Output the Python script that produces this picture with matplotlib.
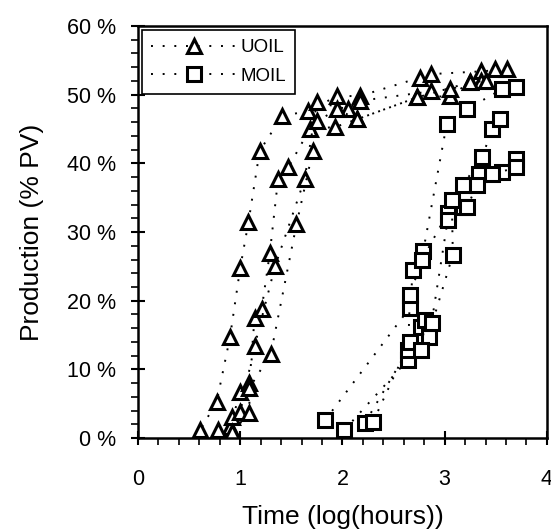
import numpy as np
import matplotlib
matplotlib.use('Agg')
import matplotlib.pyplot as plt
from matplotlib.ticker import MultipleLocator, FuncFormatter

plt.rcParams['font.family'] = ['Liberation Sans', 'DejaVu Sans']

# UOIL runs (log(hours), % PV)
u1_x = [0.60, 0.61, 0.77, 0.90, 1.00, 1.08, 1.19, 1.41, 1.66, 1.95, 2.17, 2.76, 2.87, 3.36, 3.61]
u1_y = [0.0, 1.2, 5.3, 14.7, 24.8, 31.4, 41.8, 46.9, 47.6, 49.8, 49.8, 52.5, 53.0, 53.4, 53.7]
u2_x = [0.78, 0.90, 1.00, 1.09, 1.14, 1.21, 1.29, 1.37, 1.47, 1.68, 1.93, 2.14, 2.73, 3.05, 3.25, 3.49]
u2_y = [0.3, 1.6, 6.7, 8.0, 17.5, 18.8, 27.0, 37.7, 39.4, 45.0, 45.3, 46.4, 49.6, 49.8, 51.8, 53.7]
u3_x = [0.78, 0.92, 1.00, 1.14, 1.34, 1.63, 1.75, 2.05, 2.17, 2.87, 3.05, 3.36]
u3_y = [1.2, 3.1, 3.8, 13.4, 25.0, 37.7, 48.9, 47.9, 49.1, 50.5, 50.8, 52.0]
u4_x = [0.92, 1.09, 1.09, 1.30, 1.55, 1.71, 1.75, 1.95, 2.14, 2.73, 3.25, 3.40]
u4_y = [0.9, 3.6, 7.3, 12.3, 31.1, 41.8, 46.1, 47.9, 46.4, 49.6, 51.8, 52.0]

# MOIL runs
m1_x = [1.83, 2.66, 2.69, 2.79, 3.02, 3.22, 3.56, 3.70]
m1_y = [2.6, 19.0, 24.5, 27.2, 45.7, 47.9, 50.8, 51.1]
m2_x = [2.02, 2.64, 2.66, 2.78, 3.03, 3.18, 3.37, 3.46, 3.54]
m2_y = [1.2, 11.4, 20.9, 26.0, 32.8, 36.9, 40.9, 45.0, 46.4]
m3_x = [2.22, 2.64, 2.77, 2.85, 3.03, 3.18, 3.34, 3.56, 3.70]
m3_y = [2.2, 12.8, 16.2, 14.7, 31.8, 33.7, 38.4, 38.8, 40.6]
m4_x = [2.30, 2.66, 2.77, 2.81, 2.88, 3.08, 3.07, 3.22, 3.32, 3.46, 3.70]
m4_y = [2.4, 14.0, 12.8, 17.2, 16.8, 26.7, 34.7, 33.7, 36.9, 38.4, 39.4]

uoil = [(u1_x, u1_y), (u2_x, u2_y), (u3_x, u3_y), (u4_x, u4_y)]
moil = [(m1_x, m1_y), (m2_x, m2_y), (m3_x, m3_y), (m4_x, m4_y)]

fig = plt.figure(figsize=(5.51, 5.31), dpi=100)
ax = fig.add_axes([0.2505, 0.175, 0.742, 0.776])

dots = (0, (1, 5))
for i, (x, y) in enumerate(uoil):
    ax.plot(x, y, color='black', linestyle=dots, lw=1.4, marker='^', markersize=10,
            markerfacecolor='white', markeredgecolor='black', markeredgewidth=2.2,
            label='UOIL' if i == 0 else None)
for i, (x, y) in enumerate(moil):
    ax.plot(x, y, color='black', linestyle=dots, lw=1.4, marker='s', markersize=10,
            markerfacecolor='white', markeredgecolor='black', markeredgewidth=2.2,
            label='MOIL' if i == 0 else None)

ax.set_xlim(0, 4)
ax.set_ylim(0, 60)
ax.xaxis.set_major_locator(MultipleLocator(1))
ax.xaxis.set_minor_locator(MultipleLocator(0.2))
ax.yaxis.set_major_locator(MultipleLocator(10))
ax.yaxis.set_minor_locator(MultipleLocator(2))
ax.yaxis.set_major_formatter(FuncFormatter(lambda v, p: '%d %%' % v))
ax.tick_params(which='major', direction='inout', length=10, width=1.5, labelsize=15.5)
ax.tick_params(axis='x', which='major', pad=17)
ax.tick_params(axis='y', which='major', pad=11)
ax.tick_params(which='minor', direction='out', length=5, width=1.2)
for s in ax.spines.values():
    s.set_linewidth(1.8)

ax.set_xlabel('Time (log(hours))', fontsize=19, labelpad=11)
ax.set_ylabel('Production (% PV)', fontsize=19, labelpad=16)

leg = ax.legend(loc='upper left', fontsize=13.5, frameon=True, fancybox=False,
                handlelength=4.6, borderaxespad=0.2, handletextpad=0.15, borderpad=0.5,
                labelspacing=0.6)
leg.get_frame().set_edgecolor('black')
leg.get_frame().set_linewidth(1.2)
leg.get_frame().set_alpha(1)

fig.savefig('out.png', dpi=100)
